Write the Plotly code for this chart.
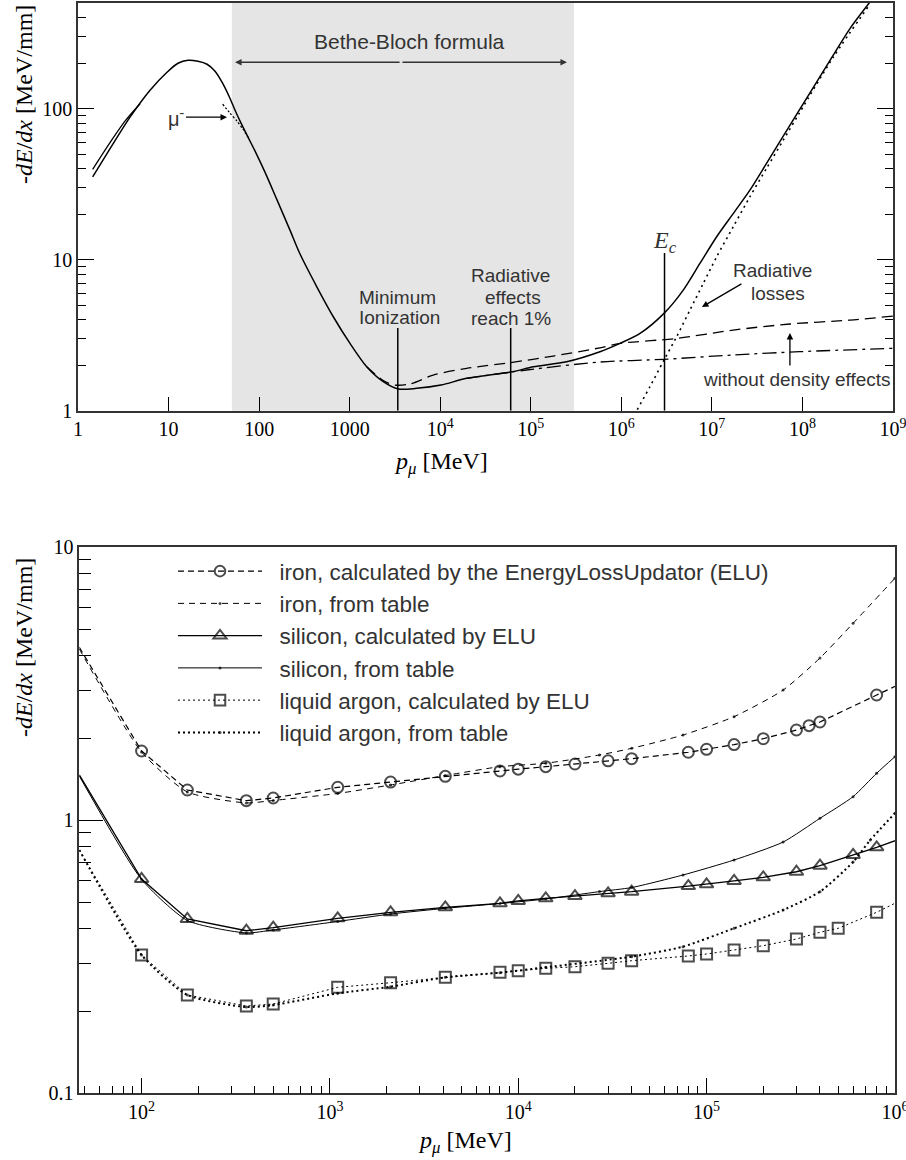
import math
import plotly.graph_objects as go

# ---------------- TOP PANEL DATA ----------------
total_p = [1.45, 2.31, 3.75, 6.24, 9.61, 12.7, 16.4, 21.1, 26.6, 32.6, 38.9, 46.5, 54.2, 63.1, 75.4,
           92.4, 116, 158, 219, 283, 432, 659, 1008, 1542, 2350, 3440, 5500, 10200, 19600, 62500,
           107000, 249000, 581000, 966000, 1.61e6, 2.96e6, 4.83e6, 7.38e6, 1.13e7, 1.72e7, 2.63e7,
           4.03e7, 6.14e7, 9.38e7, 1.435e8, 2.19e8, 3.35e8, 5.57e8]
total_dedx = [35.4, 55.6, 87.9, 132.6, 174.4, 200, 209.4, 206.2, 197, 177, 149.8, 121, 97.7, 80.2, 64.8,
              50.8, 38.0, 24.8, 15.7, 10.9, 6.64, 4.19, 2.79, 1.955, 1.556, 1.392, 1.407, 1.479, 1.638, 1.811,
              1.955, 2.11, 2.458, 2.79, 3.25, 4.41, 6.29, 9.45, 14.2, 20.2, 28.9,
              43.6, 65.8, 99.3, 149.8, 226, 339.5, 509]

low_branch_p = [1.45, 2.31, 3.30, 4.84]
low_branch_dedx = [39.6, 60.9, 82.7, 107.9]

mu_minus_p = [39.6, 47.7, 57.0, 66.4, 75.4]
mu_minus_dedx = [107.1, 93.4, 82.7, 73.1, 64.8]

nodensity_p = [1542, 2350, 3170, 4630, 8380, 19600, 62500, 177000, 581000, 966000, 4.08e6, 1.72e7,
               7.28e7, 3.35e8, 1e9]
nodensity_dedx = [1.955, 1.585, 1.479, 1.502, 1.722, 1.908, 2.09, 2.30, 2.61, 2.79, 3.01, 3.42,
                  3.75, 3.98, 4.23]

ioniz_p = [19600, 90000, 581000, 2.96e6, 1.72e7, 9.38e7, 1e9]
ioniz_dedx = [1.638, 1.86, 2.1, 2.19, 2.34, 2.46, 2.59]

rad_p = [1.3e6, 1.477e6, 2.07e6, 2.96e6, 4.08e6, 5.73e6, 8.04e6, 1.13e7, 1.72e7, 2.63e7, 4.03e7,
         6.14e7, 9.38e7, 2.19e8, 5.57e8]
rad_dedx = [0.87, 1.0, 1.442, 2.165, 3.09, 4.64, 6.97, 10.45, 16.5, 26.1, 40.4, 61.9, 94.8, 219, 492]

# marker lines (p position, top value)
min_ion_p, min_ion_top = 3400, 3.53
rad1_p, rad1_top = 6.0e4, 3.53
ec_p, ec_top = 3.0e6, 11.06
bethe_range = [50, 3.0e5]

top_xticks = [1, 10, 100, 1000, 1e4, 1e5, 1e6, 1e7, 1e8, 1e9]
top_xticktext = ["1", "10", "100", "1000", "10<sup>4</sup>", "10<sup>5</sup>", "10<sup>6</sup>",
                 "10<sup>7</sup>", "10<sup>8</sup>", "10<sup>9</sup>"]
top_yticks = [1, 10, 100]
top_yticktext = ["1", "10", "100"]

# ---------------- BOTTOM PANEL DATA ----------------
iron_elu_p = [46.7, 100, 175, 360, 500, 1100, 2100, 4100, 8000, 1e4, 1.4e4, 2e4, 3e4, 4e4, 8e4, 1e5,
              1.4e5, 2e5, 3e5, 3.5e5, 4e5, 8e5, 1.1e6]
iron_elu = [4.30, 1.794, 1.291, 1.18, 1.207, 1.321, 1.381, 1.449, 1.516, 1.539, 1.572, 1.608, 1.652,
            1.681, 1.775, 1.820, 1.894, 1.99, 2.142, 2.221, 2.291, 2.877, 3.19]

iron_tab_p = [46.7, 100, 175, 360, 500, 1100, 2100, 4100, 8000, 14000, 27000, 40000, 75000, 140000,
              255000, 400000, 600000, 1000000]
iron_tab = [4.24, 1.779, 1.27, 1.158, 1.182, 1.254, 1.347, 1.459, 1.572, 1.618, 1.735, 1.835, 2.053,
            2.397, 3.0, 3.93, 5.27, 7.70]

si_elu_p = [46.7, 100, 175, 360, 500, 1100, 2100, 4100, 8000, 1e4, 1.4e4, 2e4, 3e4, 4e4, 8e4, 1e5,
            1.4e5, 2e5, 3e5, 4e5, 6e5, 8e5, 1.1e6]
si_elu = [1.466, 0.6095, 0.435, 0.394, 0.4045, 0.4375, 0.460, 0.480, 0.4966, 0.5064, 0.518, 0.528,
          0.540, 0.5475, 0.5743, 0.583, 0.5995, 0.6184, 0.648, 0.6817, 0.7464, 0.796, 0.862]

si_tab_p = [46.7, 100, 175, 360, 500, 1100, 2100, 4100, 8000, 14000, 27000, 40000, 75000, 140000,
            255000, 400000, 600000, 800000, 1000000]
si_tab = [1.453, 0.6071, 0.4295, 0.3867, 0.3966, 0.426, 0.4537, 0.476, 0.4957, 0.5149, 0.548, 0.5671,
          0.6305, 0.7155, 0.8325, 1.017, 1.221, 1.487, 1.71]

ar_elu_p = [46.7, 100, 175, 360, 500, 1100, 2100, 4100, 8000, 1e4, 1.4e4, 2e4, 3e4, 4e4, 8e4, 1e5,
            1.4e5, 2e5, 3e5, 4e5, 5e5, 8e5, 1.1e6]
ar_elu = [0.7784, 0.3211, 0.2291, 0.2088, 0.2124, 0.2445, 0.2541, 0.266, 0.2775, 0.2812, 0.2869,
          0.2908, 0.2993, 0.306, 0.3184, 0.3238, 0.3349, 0.3473, 0.3674, 0.3889, 0.4022, 0.4603, 0.513]

ar_tab_p = [46.7, 100, 175, 360, 500, 1100, 2100, 4100, 8000, 14000, 40000, 75000, 140000, 255000,
            400000, 600000, 740000, 1000000]
ar_tab = [0.7784, 0.3211, 0.2291, 0.207, 0.2106, 0.2324, 0.2457, 0.266, 0.2766, 0.2894, 0.3166,
          0.3444, 0.4022, 0.4691, 0.5475, 0.7036, 0.8469, 1.061]

legend_names = ["iron, calculated by the EnergyLossUpdator (ELU)", "iron, from table",
                "silicon, calculated by ELU", "silicon, from table",
                "liquid argon, calculated by ELU", "liquid argon, from table"]

bot_xticks = [1e2, 1e3, 1e4, 1e5, 1e6]
bot_xticktext = ["10<sup>2</sup>", "10<sup>3</sup>", "10<sup>4</sup>", "10<sup>5</sup>", "10<sup>6</sup>"]
bot_yticks = [0.1, 1, 10]
bot_yticktext = ["0.1", "1", "10"]

# ---------------- FIGURE ----------------
W, H = 906, 1160
SERIF = "Liberation Serif, Times New Roman, serif"
SANS = "Liberation Sans, Arial, sans-serif"
TXT = "#333333"
NB = "\u00a0"

fig = go.Figure()

def top_line(x, y, dash="solid", width=1.5, shape="spline"):
    fig.add_trace(go.Scatter(x=x, y=y, mode="lines", xaxis="x", yaxis="y", showlegend=False,
                             line=dict(color="black", width=width, dash=dash, shape=shape, smoothing=0.8),
                             hoverinfo="skip"))

top_line(total_p, total_dedx, "solid", 1.5)
top_line(low_branch_p, low_branch_dedx, "solid", 1.3)
top_line(mu_minus_p, mu_minus_dedx, "2px,2px", 1.3)
top_line(nodensity_p, nodensity_dedx, "11px,6px", 1.3)
top_line(ioniz_p, ioniz_dedx, "14px,5px,3px,5px", 1.3)
top_line(rad_p, rad_dedx, "2px,4px", 1.6)

def bot_trace(x, y, name, dash, width, symbol, size, group, shape="linear"):
    sizes = [size] * len(x)
    if x[-1] > 1e6:
        sizes[-1] = 0
    fig.add_trace(go.Scatter(
        x=x, y=y, name=NB + NB + name, mode="lines+markers", xaxis="x2", yaxis="y2",
        legendgroup=group, cliponaxis=False,
        line=dict(color="black", width=width, dash=dash, shape=shape, smoothing=0.6),
        marker=dict(symbol=symbol, size=sizes, color="black",
                    line=dict(color="black", width=2 if size > 5 else 0)),
        hoverinfo="skip"))

bot_trace(iron_elu_p, iron_elu, legend_names[0], "6px,4px", 1.2, "circle-open", 11, "g1")
bot_trace(iron_tab_p, iron_tab, legend_names[1], "6px,5px", 1.0, "circle", 3, "g2", "spline")
bot_trace(si_elu_p, si_elu, legend_names[2], "solid", 1.3, "triangle-up-open", 12, "g3")
bot_trace(si_tab_p, si_tab, legend_names[3], "solid", 1.0, "circle", 3, "g4", "spline")
bot_trace(ar_elu_p, ar_elu, legend_names[4], "2px,3px", 1.0, "square-open", 11, "g5")
bot_trace(ar_tab_p, ar_tab, legend_names[5], "2px,3px", 2.0, "circle", 3, "g6", "spline")

# shapes
shapes = [
    dict(type="rect", xref="x", yref="y domain", x0=bethe_range[0], x1=bethe_range[1], y0=0, y1=1,
         fillcolor="#e5e5e5", line=dict(width=0), layer="below"),
    dict(type="line", xref="x", yref="y", x0=min_ion_p, x1=min_ion_p, y0=1, y1=min_ion_top,
         line=dict(color="black", width=1.5)),
    dict(type="line", xref="x", yref="y", x0=rad1_p, x1=rad1_p, y0=1, y1=rad1_top,
         line=dict(color="black", width=1.5)),
    dict(type="line", xref="x", yref="y", x0=ec_p, x1=ec_p, y0=1, y1=ec_top,
         line=dict(color="black", width=1.5)),
]

L = math.log10
ann = []

def txt(x, y, text, size=19, family=SANS, color=TXT):
    ann.append(dict(xref="x", yref="y", x=L(x), y=L(y), text=text, showarrow=False,
                    xanchor="center", yanchor="middle", font=dict(family=family, size=size, color=color)))

def arrow(x, y, ax, ay, color="black"):
    ann.append(dict(xref="x", yref="y", x=L(x), y=L(y), ax=ax, ay=ay, text="", showarrow=True,
                    arrowhead=2, arrowsize=1, arrowwidth=1.3, arrowcolor=color))

# Bethe-Bloch arrows
arrow(54.2, 203, 166, 0, TXT)
arrow(2.51e5, 203, -166, 0, TXT)
txt(4634, 279.7, "Bethe-Bloch formula", size=21)
# mu-
ann.append(dict(xref="x", yref="y", x=L(44.2), y=L(87.9), ax=-51, ay=0, text="μ<sup>-</sup>",
                showarrow=True, arrowhead=2, arrowsize=1, arrowwidth=1.3, arrowcolor="black",
                font=dict(family=SANS, size=20, color=TXT)))
# Minimum ionization
txt(3400, 5.657, "Minimum")
txt(3550, 4.17, "Ionization")
# Radiative effects
txt(5.9e4, 7.91, "Radiative")
txt(6.3e4, 5.657, "effects")
txt(6.1e4, 4.108, "reach 1%")
# E_c
txt(ec_p, 13.1, "<i>E<sub>c</sub></i>", size=24, family=SERIF)
# Radiative losses
txt(4.72e7, 8.54, "Radiative")
txt(5.43e7, 6.01, "losses")
arrow(7.77e6, 4.86, 41, -24)
# without density effects
arrow(7.28e7, 3.27, 0, 34)
txt(8.7e7, 1.62, "without density effects")

# axis titles
ytitle = "-<i>dE</i>/<i>dx</i> [MeV/mm]"
xtitle = "<i>p<sub>μ</sub></i> [MeV]"
def ptxt(x, y, text, angle=0):
    ann.append(dict(xref="paper", yref="paper", x=x / W, y=1 - y / H, text=text, textangle=angle,
                    xanchor="center", yanchor="middle", showarrow=False,
                    font=dict(family=SERIF, size=24, color="black")))
ptxt(24, 95, ytitle, -90)
ptxt(24, 648, ytitle, -90)
ptxt(441, 463, xtitle)
ptxt(465, 1142, xtitle)

def minor_vals(lo, hi):
    vals = []
    for k in range(lo, hi):
        for d in range(2, 10):
            vals.append(d * 10 ** k)
    return vals

axis_common = dict(type="log", showgrid=False, zeroline=False, showline=True, linecolor="#333",
                   linewidth=1.5, ticks="inside", tickcolor="black", tickwidth=1.3, automargin=False,
                   ticklabeloverflow="allow",
                   tickfont=dict(family=SERIF, size=20, color="black"), tickmode="array")

fig.update_layout(
    width=W, height=H, margin=dict(l=0, r=0, t=0, b=0),
    paper_bgcolor="white", plot_bgcolor="white",
    shapes=shapes, annotations=ann,
    xaxis=dict(axis_common, domain=[78 / W, 893 / W], anchor="y", range=[-0.0005, 9.0005], mirror=True,
               tickvals=top_xticks, ticktext=top_xticktext, ticklen=14),
    yaxis=dict(axis_common, domain=[1 - 410.7 / H, 1 - 2.7 / H], anchor="x", range=[0, 2.702],
               mirror="ticks", tickvals=top_yticks, ticktext=top_yticktext, ticklen=16,
               minor=dict(ticks="inside", ticklen=8, tickcolor="black", tickwidth=1.3,
                          tickmode="array", tickvals=minor_vals(0, 3))),
    xaxis2=dict(axis_common, domain=[79.3 / W, 895 / W], anchor="y2", range=[L(46.7), 6.0005], mirror=True,
                tickvals=bot_xticks, ticktext=bot_xticktext, ticklen=16,
                minor=dict(ticks="inside", ticklen=8, tickcolor="black", tickwidth=1.3,
                           tickmode="array", tickvals=minor_vals(1, 6))),
    yaxis2=dict(axis_common, domain=[1 - 1093.3 / H, 1 - 547.3 / H], anchor="x2", range=[-1, 1],
                mirror=True, tickvals=bot_yticks, ticktext=bot_yticktext, ticklen=24,
                minor=dict(ticks="inside", ticklen=12, tickcolor="black", tickwidth=1.3,
                           tickmode="array", tickvals=minor_vals(-1, 1))),
    legend=dict(x=173 / W, xanchor="left", y=1 - 550 / H, yanchor="top", bgcolor="rgba(0,0,0,0)",
                borderwidth=0, font=dict(family=SANS, size=22.5, color=TXT), itemwidth=84,
                tracegroupgap=4, traceorder="normal"),
)

fig.write_html("out.html")
